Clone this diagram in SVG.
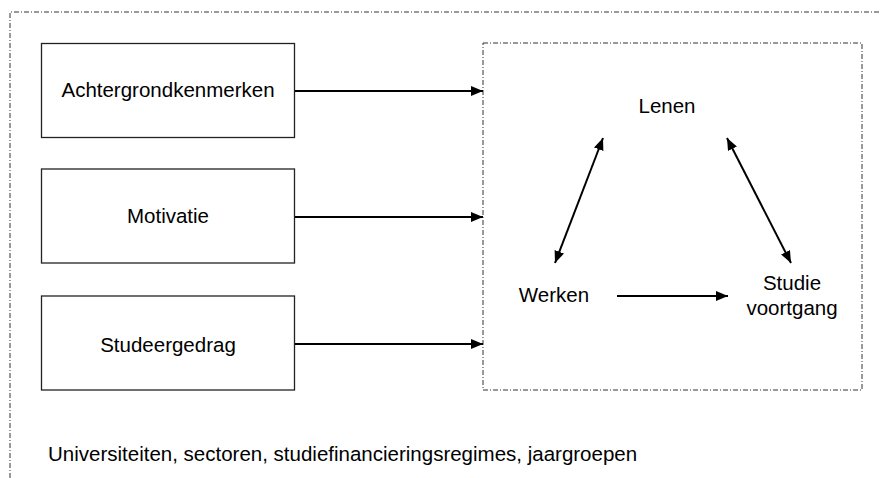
<svg xmlns="http://www.w3.org/2000/svg" width="881" height="478" viewBox="0 0 881 478">
<style>
.box{fill:#fff;stroke:#222;stroke-width:1.3}
.frame{fill:none;stroke:#333;stroke-width:1;stroke-dasharray:5 2 1 2}
.lbl{font-family:"Liberation Sans",Arial,sans-serif;font-size:20.5px;fill:#000}
.c{stroke:#000;stroke-width:2;fill:none}
</style>
<defs>
<marker id="ah" viewBox="0 0 12 10" refX="12" refY="5" markerWidth="12" markerHeight="10" markerUnits="userSpaceOnUse" orient="auto-start-reverse">
<path d="M0,0 L12,5 L0,10 z" fill="#000"/>
</marker>
</defs>
<rect width="881" height="478" fill="#fff"/>
<g id="outer-frame">
<path class="frame" d="M10,478 L10,12 L881,12"/>
<text class="lbl" x="48" y="461">Universiteiten, sectoren, studiefinancieringsregimes, jaargroepen</text>
</g>
<g id="inner-frame">
<rect class="frame" x="483" y="43" width="379" height="347"/>
</g>
<g id="achtergrondkenmerken">
<rect class="box" x="41.5" y="43.5" width="253" height="94"/>
<text class="lbl" x="168" y="97" text-anchor="middle">Achtergrondkenmerken</text>
</g>
<g id="motivatie">
<rect class="box" x="41.5" y="169" width="253" height="94"/>
<text class="lbl" x="168" y="223" text-anchor="middle">Motivatie</text>
</g>
<g id="studeergedrag">
<rect class="box" x="41.5" y="296" width="253" height="94"/>
<text class="lbl" x="168" y="352" text-anchor="middle">Studeergedrag</text>
</g>
<g id="lenen">
<text class="lbl" x="667" y="113" text-anchor="middle">Lenen</text>
</g>
<g id="werken">
<text class="lbl" x="554" y="302" text-anchor="middle">Werken</text>
</g>
<g id="studievoortgang">
<text class="lbl" x="792" y="290" text-anchor="middle">Studie</text>
<text class="lbl" x="792" y="315" text-anchor="middle">voortgang</text>
</g>
<g id="connectors">
<line class="c" x1="295" y1="91" x2="483" y2="91" marker-end="url(#ah)"/>
<line class="c" x1="295" y1="217" x2="483" y2="217" marker-end="url(#ah)"/>
<line class="c" x1="295" y1="344" x2="483" y2="344" marker-end="url(#ah)"/>
<line class="c" x1="603" y1="138" x2="555" y2="263" marker-start="url(#ah)" marker-end="url(#ah)"/>
<line class="c" x1="727" y1="138" x2="791" y2="263" marker-start="url(#ah)" marker-end="url(#ah)"/>
<line class="c" x1="617" y1="296" x2="728" y2="296" marker-end="url(#ah)"/>
</g>
</svg>
